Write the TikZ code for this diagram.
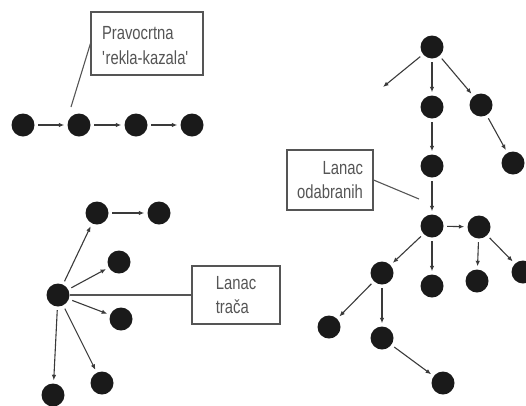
\documentclass[tikz,border=0pt]{standalone}
\usepackage{fontspec}
\newfontfamily\labfont[FakeStretch=0.78]{Liberation Sans}
\usetikzlibrary{arrows.meta}
\definecolor{dotc}{HTML}{1A1A1A}
\definecolor{arrc}{HTML}{3A3A3A}
\definecolor{boxc}{HTML}{555555}
\definecolor{txtc}{HTML}{555555}
\tikzset{
  dot/.style={circle,fill=dotc,draw=none,minimum size=23pt,inner sep=0pt},
  arr/.style={draw=arrc,line width=1.1pt,-{Latex[length=5.5pt,width=4.5pt]},shorten <=3.5pt,shorten >=3pt},
  lbl/.style={draw=boxc,line width=1.1pt,fill=white,text=txtc,inner sep=0pt,
    font=\labfont\fontsize{19}{24}\selectfont},
  labtext/.style={text=txtc,inner sep=0pt,font=\labfont\fontsize{19}{24.5}\selectfont},
  lead/.style={draw=boxc,line width=1.1pt}
}
\begin{document}
\begin{tikzpicture}[x=1pt,y=-1pt]
\useasboundingbox (0,0) rectangle (526,405);
% straight chain
\node[dot] (a1) at (23,125) {};
\node[dot] (a2) at (79,125) {};
\node[dot] (a3) at (136,125) {};
\node[dot] (a4) at (192,125) {};
\draw[arr] (a1) -- (a2);
\draw[arr] (a2) -- (a3);
\draw[arr] (a3) -- (a4);
\node[lbl,minimum width=112pt,minimum height=63pt] (p1) at (147,43.5) {};
\node[labtext,text width=90pt,align=left] (p1t) at (147,45.5) {Pravocrtna\\\textquotesingle rekla-kazala\textquotesingle};
\coordinate (c1) at (71,107);
\draw[lead] (p1.west) -- (c1);
% gossip star
\node[dot] (g0) at (58,295) {};
\node[dot] (gA) at (97,213) {};
\node[dot] (gB) at (159,213) {};
\node[dot] (gC) at (119,262) {};
\node[dot] (gD) at (121,319) {};
\node[dot] (gE) at (102,383) {};
\node[dot] (gF) at (53,395) {};
\draw[arr] (g0) -- (gA);
\draw[arr] (gA) -- (gB);
\draw[arr] (g0) -- (gC);
\draw[arr] (g0) -- (gD);
\draw[arr] (g0) -- (gE);
\draw[arr] (g0) -- (gF);
\node[lbl,minimum width=88pt,minimum height=58pt,align=left] (p2) at (236,295) {Lanac\\trača};
\draw[lead] (g0) -- (p2.west);
% selection tree
\node[dot] (r) at (432,47) {};
\coordinate (e1) at (383,87);
\node[dot] (r1) at (432,107) {};
\node[dot] (r2) at (481,105) {};
\node[dot] (r2a) at (513,163) {};
\node[dot] (r1a) at (432,166) {};
\node[dot] (s) at (432,226) {};
\node[dot] (t) at (479,227) {};
\node[dot] (t1) at (477,281) {};
\node[dot] (t2) at (523,272) {};
\node[dot] (u) at (382,273) {};
\node[dot] (v) at (432,286) {};
\node[dot] (w) at (329,327) {};
\node[dot] (x) at (382,338) {};
\node[dot] (y) at (443,383) {};
\draw[arr,shorten >=0pt] (r) -- (e1);
\draw[arr] (r) -- (r1);
\draw[arr] (r) -- (r2);
\draw[arr] (r2) -- (r2a);
\draw[arr] (r1) -- (r1a);
\draw[arr] (r1a) -- (s);
\draw[arr] (s) -- (t);
\draw[arr] (t) -- (t1);
\draw[arr] (t) -- (t2);
\draw[arr] (s) -- (u);
\draw[arr] (s) -- (v);
\draw[arr] (u) -- (w);
\draw[arr] (u) -- (x);
\draw[arr] (x) -- (y);
\node[lbl,minimum width=86pt,minimum height=60pt,align=right] (p3) at (330,180) {Lanac\\odabranih};
\coordinate (c3) at (419,199);
\draw[lead] (p3.east) -- (c3);
\end{tikzpicture}
\end{document}
